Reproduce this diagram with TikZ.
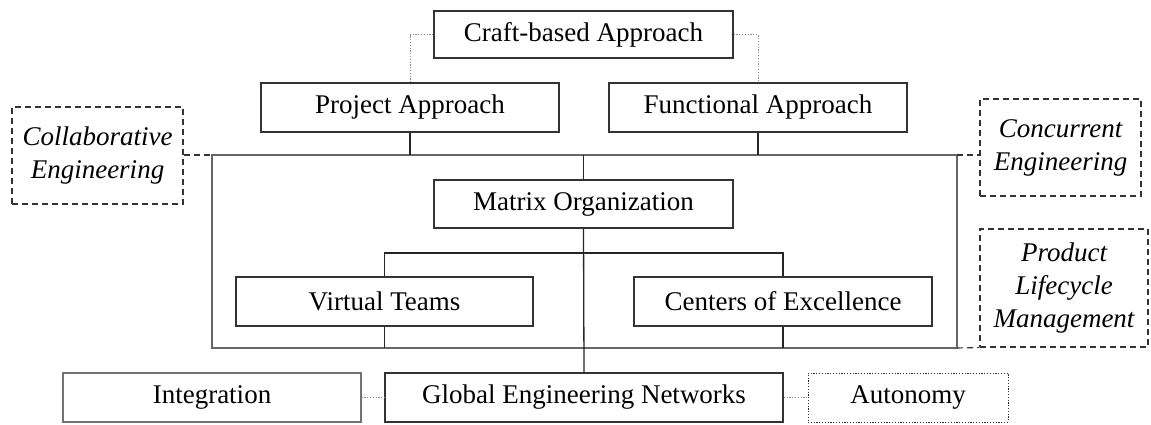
\documentclass[tikz,border=0pt]{standalone}
\usepackage{fontspec}
\setmainfont{Liberation Serif}
\begin{document}
\begin{tikzpicture}
	[x=1pt, y=-1pt,
	font=\fontsize{27}{33}\selectfont,
	box/.style = {draw=black!80, line width=1.3pt, inner sep=0pt, align=center},
	graybox/.style = {draw=black!55, line width=1.3pt, inner sep=0pt, align=center},
	dashbox/.style = {draw=black!80, line width=1.1pt, dash pattern=on 6pt off 4pt, inner sep=0pt, align=center, font=\fontsize{27}{33}\selectfont\itshape},
	dotbox/.style = {draw=black!80, line width=1pt, dash pattern=on 1.2pt off 1.6pt, inner sep=0pt, align=center},
	frame/.style = {draw=black!60, line width=2pt},
	link/.style = {draw=black!85, line width=1.3pt},
	dashlink/.style = {draw=black!80, line width=1.1pt, dash pattern=on 6pt off 4pt},
	dotlink/.style = {draw=black!45, line width=1pt, dash pattern=on 1.2pt off 1.6pt}] 
\useasboundingbox (0,0) rectangle (1151,424);
\node[box, minimum width=299, minimum height=47] (craft) at (583.5,34.5) {Craft-based Approach};
\node[box, minimum width=298, minimum height=49] (proj) at (410,107.5) {Project Approach};
\node[box, minimum width=298, minimum height=49] (func) at (758,107.5) {Functional Approach};
\node[box, minimum width=299, minimum height=48] (matrix) at (583.5,204) {Matrix Organization};
\node[box, minimum width=297, minimum height=49] (vt) at (384.5,301.5) {Virtual Teams};
\node[box, minimum width=298, minimum height=49] (coe) at (783,301.5) {Centers of Excellence};
\node[box, line width=1.6pt, minimum width=398, minimum height=49] (gen) at (584,397.5) {Global Engineering Networks};
\node[graybox, minimum width=298, minimum height=49] (integ) at (212,397.5) {Integration};
\node[dotbox, minimum width=200, minimum height=49] (auto) at (908,397.5) {Autonomy};
\node[dashbox, minimum width=171, minimum height=97] (collab) at (97.5,155.5) {Collaborative\\Engineering};
\node[dashbox, minimum width=161, minimum height=97] (conc) at (1060.5,147.5) {Concurrent\\Engineering};
\node[dashbox, minimum width=168, minimum height=118] (plm) at (1064,288) {Product\\Lifecycle\\Management};
\coordinate (busL) at (212,155);
\coordinate (busR) at (957,155);
\coordinate (botL) at (212,348);
\coordinate (botR) at (957,348);
\coordinate (sub) at (0,253);
% outer frame
\draw[frame] (busL) -- (busR) -- (botR) -- (botL) -- cycle;
\draw[dotlink] (craft.west) -| (proj.north);
\draw[dotlink] (craft.east) -| (func.north);
\draw[link] (proj.south) -- (proj.south |- busL);
\draw[link] (func.south) -- (func.south |- busL);
\draw[link] (matrix.north) -- (matrix.north |- busL);
\draw[link] (matrix.south) -- (gen.north);
\draw[link] (vt.north) -- (vt.north |- sub) -- (coe.north |- sub) -- (coe.north);
\draw[link] (vt.south) -- (vt.south |- botL);
\draw[link] (coe.south) -- (coe.south |- botL);
\draw[dashlink] (collab.east |- busL) -- (busL);
\draw[dashlink] (busR) -- (busR -| conc.west);
\draw[dashlink] (botR) -- (plm.south west);
\draw[dotlink] (integ.east) -- (gen.west);
\draw[dotlink] (gen.east) -- (auto.west);
\end{tikzpicture}
\end{document}
